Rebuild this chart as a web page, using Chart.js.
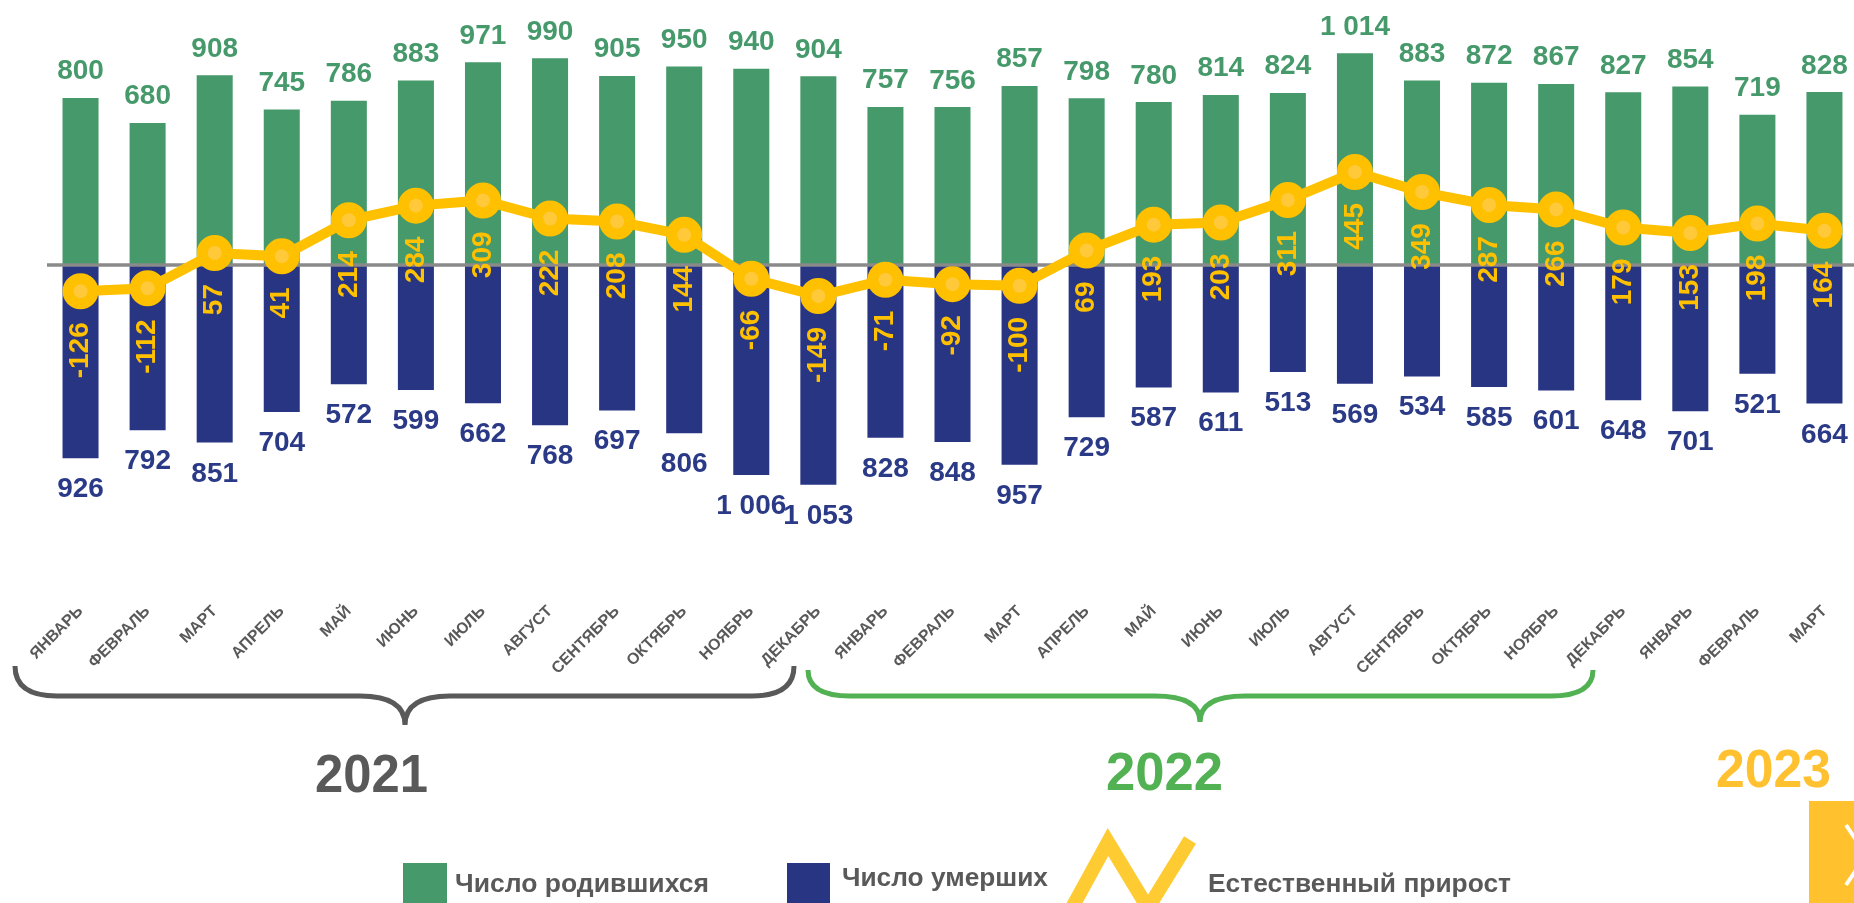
<!DOCTYPE html>
<html lang="ru">
<head>
<meta charset="utf-8">
<title>Естественный прирост</title>
<script src="https://cdn.jsdelivr.net/npm/chart.js@4.4.1/dist/chart.umd.min.js"></script>
<style>
  html, body { margin: 0; padding: 0; background: #ffffff; overflow: hidden; width: 1854px; height: 903px; }
  #wrap { position: absolute; left: 0; top: 0; width: 1860px; height: 903px; }
  #chart { display: block; width: 1860px; height: 903px; }
  #overlay { position: absolute; left: 0; top: 0; width: 1854px; height: 903px; pointer-events: none; }
  #overlay text { font-family: "Liberation Sans", Arial, sans-serif; font-weight: bold; }
</style>
</head>
<body>
<div id="wrap"><canvas id="chart" width="1860" height="903"></canvas></div>
<svg id="overlay" width="1854" height="903" viewBox="0 0 1854 903" xmlns="http://www.w3.org/2000/svg">
  <!-- year braces -->
  <path d="M15,666 Q15,696 57,696 L360,696 Q405,696 405,725 Q405,696 450,696 L752,696 Q794,696 794,666" fill="none" stroke="#595959" stroke-width="5"/>
  <path d="M808,670 Q808,696 850,696 L1155,696 Q1200,696 1200,722 Q1200,696 1245,696 L1551,696 Q1593,696 1593,670" fill="none" stroke="#52B152" stroke-width="5"/>
  <!-- years -->
  <text x="315" y="792" font-size="54" fill="#595959" textLength="113" lengthAdjust="spacingAndGlyphs">2021</text>
  <text x="1106" y="790" font-size="54" fill="#52B152" textLength="117" lengthAdjust="spacingAndGlyphs">2022</text>
  <text x="1716" y="787" font-size="54" fill="#FFC12F" textLength="115" lengthAdjust="spacingAndGlyphs">2023</text>
  <!-- legend -->
  <rect x="403" y="863" width="44" height="45" fill="#46996A"/>
  <text x="455" y="892" font-size="26" fill="#595959" textLength="254" lengthAdjust="spacingAndGlyphs">Число родившихся</text>
  <rect x="787" y="863" width="43" height="45" fill="#283583"/>
  <text x="842" y="886" font-size="26" fill="#595959" textLength="206" lengthAdjust="spacingAndGlyphs">Число умерших</text>
  <polyline points="1068,915 1108,842 1148,908 1190,840" fill="none" stroke="#FFCB33" stroke-width="14"/>
  <text x="1208" y="892" font-size="26" fill="#595959" textLength="303" lengthAdjust="spacingAndGlyphs">Естественный прирост</text>
  <!-- nav button -->
  <rect x="1809" y="801" width="50" height="110" fill="#FFC12E"/>
  <polyline points="1846,825 1866,855 1846,885" fill="none" stroke="#ffffff" stroke-width="4"/>
</svg>
<script>
// ---- data ----
const months = [
  'ЯНВАРЬ','ФЕВРАЛЬ','МАРТ','АПРЕЛЬ','МАЙ','ИЮНЬ','ИЮЛЬ','АВГУСТ','СЕНТЯБРЬ','ОКТЯБРЬ','НОЯБРЬ','ДЕКАБРЬ',
  'ЯНВАРЬ','ФЕВРАЛЬ','МАРТ','АПРЕЛЬ','МАЙ','ИЮНЬ','ИЮЛЬ','АВГУСТ','СЕНТЯБРЬ','ОКТЯБРЬ','НОЯБРЬ','ДЕКАБРЬ',
  'ЯНВАРЬ','ФЕВРАЛЬ','МАРТ'
];
const births = [800,680,908,745,786,883,971,990,905,950,940,904,
                757,756,857,798,780,814,824,1014,883,872,867,827,
                854,719,828];
const deaths = [926,792,851,704,572,599,662,768,697,806,1006,1053,
                828,848,957,729,587,611,513,569,534,585,601,648,
                701,521,664];
const growth = [-126,-112,57,41,214,284,309,222,208,144,-66,-149,
                -71,-92,-100,69,193,203,311,445,349,287,266,179,
                153,198,164];

const FONT = '"Liberation Sans", Arial, sans-serif';
const fmt = v => String(v).replace(/\B(?=(\d{3})+(?!\d))/g, ' ');

const zeroLinePlugin = {
  id: 'zeroLine',
  beforeDatasetDraw(chart, args) {
    if (args.index !== 0) return;
    const y = chart.scales.y.getPixelForValue(0);
    const c = chart.ctx;
    c.save();
    c.strokeStyle = '#8A8A8A';
    c.lineWidth = 3.5;
    c.beginPath();
    c.moveTo(chart.chartArea.left, y);
    c.lineTo(chart.chartArea.right, y);
    c.stroke();
    c.restore();
  }
};

const labelPlugin = {
  id: 'valueLabels',
  afterDatasetsDraw(chart) {
    const c = chart.ctx;
    c.save();
    c.font = 'bold 28px ' + FONT;
    // births
    const mb = chart.getDatasetMeta(1);
    c.fillStyle = '#46996A';
    c.textAlign = 'center';
    c.textBaseline = 'alphabetic';
    mb.data.forEach((el, i) => c.fillText(fmt(births[i]), el.x, el.y - 18.5));
    // deaths
    const md = chart.getDatasetMeta(2);
    c.fillStyle = '#2B3A87';
    md.data.forEach((el, i) => c.fillText(fmt(deaths[i]), el.x, el.y + 39));
    // growth
    const ml = chart.getDatasetMeta(0);
    c.fillStyle = '#FFC000';
    c.textAlign = 'right';
    c.textBaseline = 'middle';
    ml.data.forEach((el, i) => {
      c.save();
      c.translate(el.x, el.y + 31);
      c.rotate(-Math.PI / 2);
      c.fillText(fmt(growth[i]), 0, 0);
      c.restore();
    });
    c.restore();
  }
};

new Chart(document.getElementById('chart'), {
  type: 'bar',
  data: {
    labels: months,
    datasets: [
      {
        type: 'line',
        label: 'Естественный прирост',
        data: growth,
        borderColor: '#FFC000',
        borderWidth: 10,
        tension: 0,
        pointRadius: 12.5,
        pointBorderWidth: 11,
        pointBackgroundColor: '#FFC93A',
        pointBorderColor: '#FFC000',
        clip: false,
        order: 0
      },
      {
        label: 'Число родившихся',
        data: births,
        backgroundColor: '#46996A',
        grouped: false,
        categoryPercentage: 1,
        barPercentage: 0.537,
        order: 1
      },
      {
        label: 'Число умерших',
        data: deaths.map(v => -v),
        backgroundColor: '#283583',
        grouped: false,
        categoryPercentage: 1,
        barPercentage: 0.537,
        order: 2
      }
    ]
  },
  options: {
    responsive: false,
    animation: false,
    devicePixelRatio: 1,
    layout: { autoPadding: false, padding: { left: 47, right: 2, top: 10, bottom: 0 } },
    plugins: { legend: { display: false }, tooltip: { enabled: false } },
    scales: {
      x: {
        offset: true,
        grid: { display: false, drawTicks: false },
        border: { display: false },
        ticks: {
          autoSkip: false,
          minRotation: 45,
          maxRotation: 45,
          padding: 12,
          color: '#595959',
          font: { family: FONT, size: 16, weight: 'bold' }
        },
        afterFit(s) {
          s.height = 313;
          s.paddingLeft = 0; s.paddingRight = 0;
          s.paddingTop = 0; s.paddingBottom = 0;
        }
      },
      y: { display: false, min: -1557, max: 1221 }
    }
  },
  plugins: [zeroLinePlugin, labelPlugin]
});
</script>
</body>
</html>
